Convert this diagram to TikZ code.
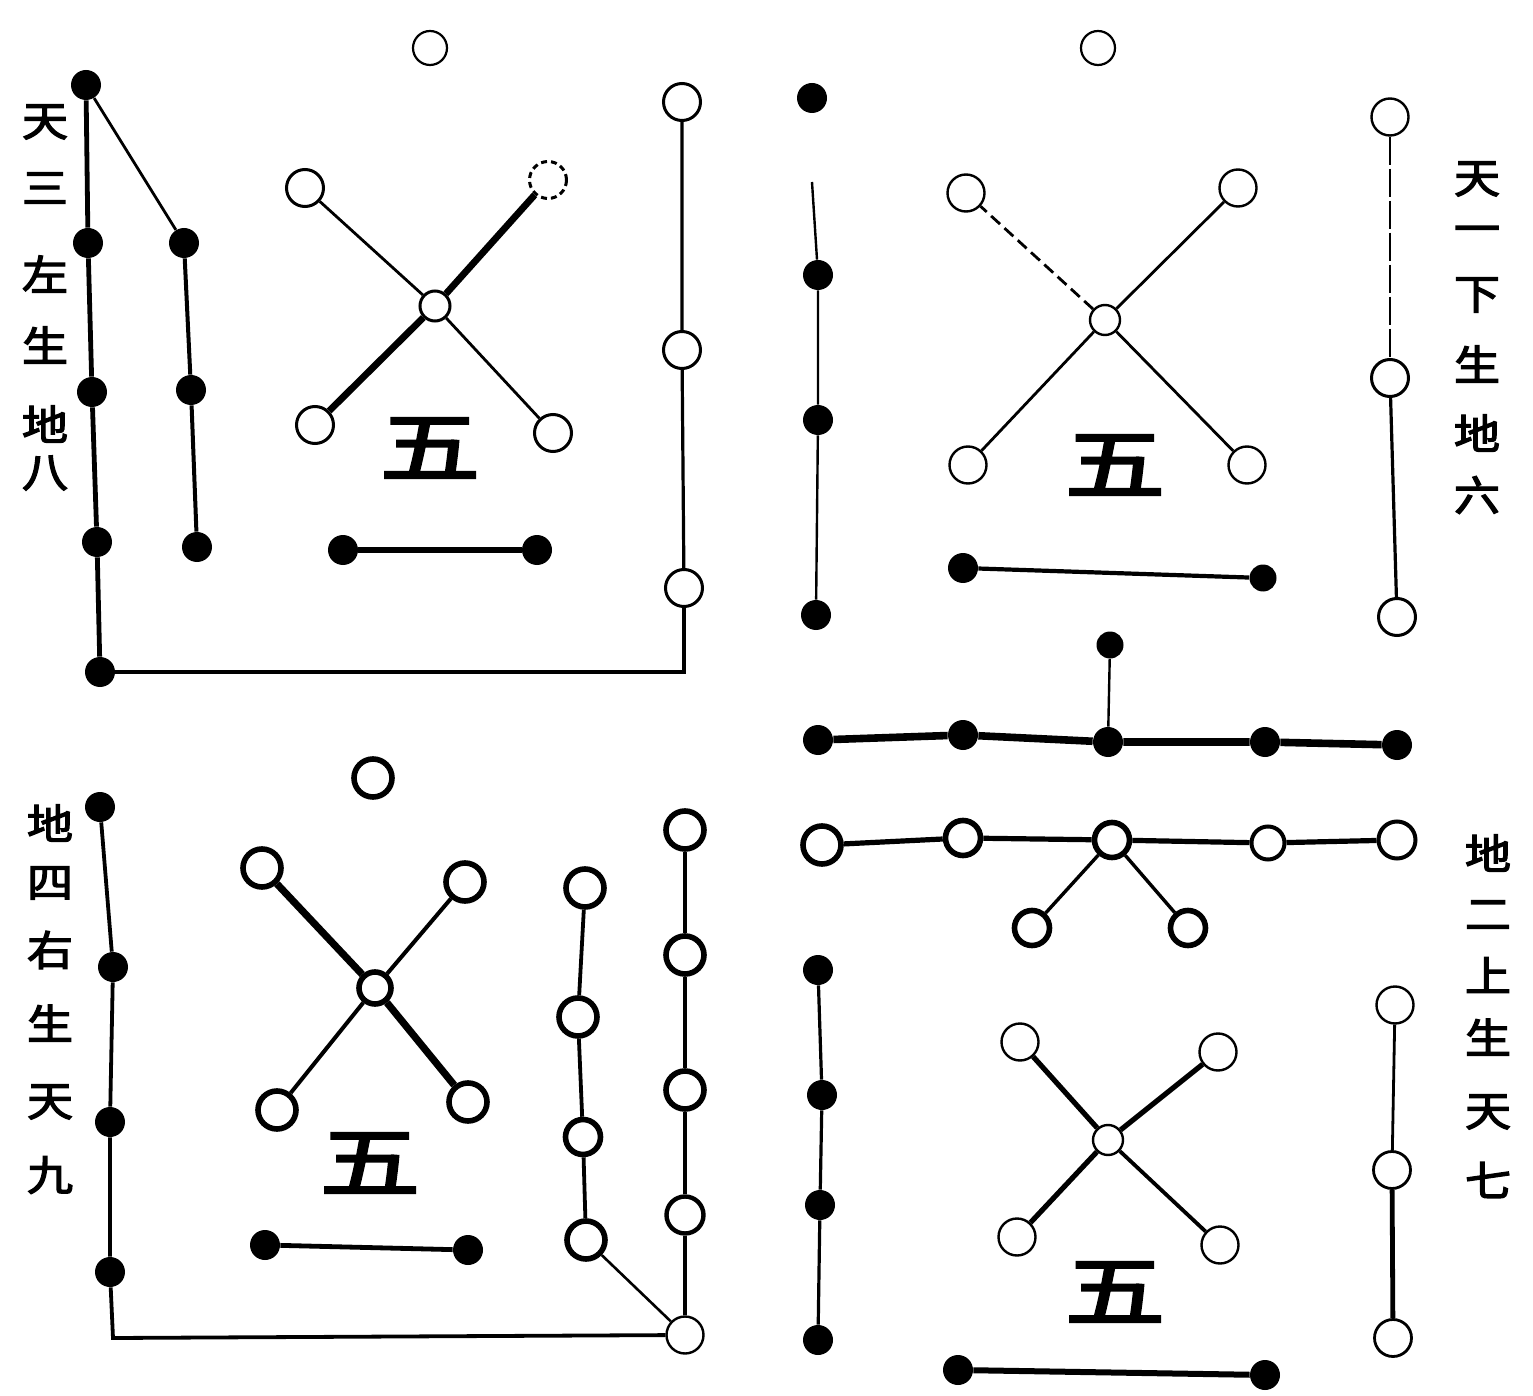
\documentclass[tikz,border=0pt]{standalone}
\usepackage{fontspec}
\newfontfamily\cjk{Noto Sans CJK SC}[AutoFakeBold=3]
\begin{document}
\begin{tikzpicture}[x=0.5pt,y=-0.5pt,
  opn/.style={circle,draw,fill=white,inner sep=0pt,minimum size=18.5pt,line width=1.5pt},
  opnk/.style={opn,line width=2.8pt,minimum size=19pt},
  ctr/.style={opn,minimum size=15pt},
  blk/.style={circle,fill=black,inner sep=0pt,minimum size=15pt},
  side/.style={font=\cjk\bfseries\fontsize{23}{23}\selectfont,inner sep=0pt,yscale=0.9},
  wu/.style={font=\cjk\bfseries\fontsize{50}{50}\selectfont,inner sep=0pt,yscale=0.78},
  thin/.style={line width=1.4pt},
  mid/.style={line width=2.4pt},
  thick/.style={line width=3.4pt}]
\fill[white] (0,0) rectangle (1533,1396);
\useasboundingbox (0,0) rectangle (1533,1396);

% ---------- top-left ----------
\foreach \c/\y [count=\i] in {天/122,三/188,左/274,生/345,地/424,八/473}
  \node[side] (tlt\i) at (45,\y) {\c};
\node[blk] (a1) at (86,85) {};
\node[blk] (a2) at (88,243) {};
\node[blk] (a3) at (92,392) {};
\node[blk] (a4) at (97,542) {};
\node[blk] (a5) at (100,672) {};
\node[blk] (b1) at (184,243) {};
\node[blk] (b2) at (191,390) {};
\node[blk] (b3) at (197,547) {};
\node[opn] (c1) at (682,102) {};
\node[opn] (c2) at (682,350) {};
\node[opn] (c3) at (684,588) {};
\node[opn,line width=1.1pt,minimum size=17pt] (t0) at (430,48) {};
\node[ctr] (xc) at (435,306) {};
\node[opn] (xnw) at (305,188) {};
\node[opn,densely dashed] (xne) at (548,180) {};
\node[opn] (xsw) at (315,425) {};
\node[opn] (xse) at (553,433) {};
\node[blk] (h1) at (343,550) {};
\node[blk] (h2) at (537,550) {};
\node[wu] (w1) at (430,448) {五};
\draw[mid] (a1)--(a2)--(a3)--(a4)--(a5);
\draw[mid] (a5) -| (c3);
\draw[thin] (a1)--(b1);
\draw[line width=2pt] (b1)--(b2)--(b3);
\draw[line width=1.6pt] (c1)--(c2)--(c3);
\draw[thick] (xc)--(xne);
\draw[thick] (xc)--(xsw);
\draw[thin] (xc)--(xnw);
\draw[thin] (xc)--(xse);
\draw[line width=2.8pt] (h1)--(h2);

% ---------- top-right ----------
\foreach \c/\y [count=\i] in {天/179,一/235,下/295,生/364,地/433,六/495}
  \node[side] (trt\i) at (1477,\y) {\c};
\node[blk] (d1) at (812,98) {};
\coordinate (dtop) at (812,182);
\node[blk] (d2) at (818,275) {};
\node[blk] (d3) at (818,420) {};
\node[blk] (d4) at (816,615) {};
\node[opn,line width=1.1pt,minimum size=17pt] (t1) at (1098,48) {};
\node[ctr,line width=1.2pt] (yc) at (1105,320) {};
\node[opn,line width=1.2pt] (ynw) at (966,193) {};
\node[opn,line width=1.2pt] (yne) at (1238,188) {};
\node[opn,line width=1.2pt] (ysw) at (968,465) {};
\node[opn,line width=1.2pt] (yse) at (1247,465) {};
\node[blk] (h3) at (963,568) {};
\node[blk,minimum size=13.5pt] (h4) at (1263,578) {};
\node[wu] (w2) at (1115,465) {五};
\node[opn,line width=1.2pt] (e1) at (1390,117) {};
\node[opn] (e2) at (1390,378) {};
\node[opn] (e3) at (1397,617) {};
\draw[line width=1.2pt] (dtop)--(d2)--(d3)--(d4);
\draw[thin,dash pattern=on 6pt off 3pt] (yc)--(ynw);
\draw[thin] (yc)--(yne);
\draw[thin] (yc)--(ysw);
\draw[thin] (yc)--(yse);
\draw[line width=2.1pt] (h3)--(h4);
\draw[line width=1.1pt,dash pattern=on 14pt off 2pt] (e1)--(e2);
\draw[line width=1.6pt] (e2)--(e3);

% ---------- middle ----------
\node[blk,minimum size=13.5pt] (m0) at (1110,645) {};
\node[blk] (m1) at (818,740) {};
\node[blk] (m2) at (963,735) {};
\node[blk] (m3) at (1108,742) {};
\node[blk] (m4) at (1265,742) {};
\node[blk] (m5) at (1397,745) {};
\node[opnk] (n1) at (822,845) {};
\node[opnk,minimum size=17.5pt] (n2) at (963,838) {};
\node[opnk,minimum size=17.5pt] (n3) at (1112,840) {};
\node[opn,line width=2pt,minimum size=16.5pt] (n4) at (1268,843) {};
\node[opn,line width=2pt] (n5) at (1397,840) {};
\node[opnk,minimum size=17.5pt] (n6) at (1032,928) {};
\node[opnk,minimum size=17.5pt] (n7) at (1188,928) {};
\draw[line width=1.2pt] (m0)--(m3);
\draw[line width=3.8pt] (m1)--(m2)--(m3)--(m4)--(m5);
\draw[line width=2.6pt] (n1)--(n2)--(n3)--(n4)--(n5);
\draw[line width=1.7pt] (n3)--(n6);
\draw[line width=1.7pt] (n3)--(n7);
\foreach \c/\y [count=\i] in {地/853,二/915,上/975,生/1037,天/1112,七/1180}
  \node[side] (mrt\i) at (1488,\y) {\c};

% ---------- bottom-right ----------
\node[blk] (p1) at (818,970) {};
\node[blk] (p2) at (822,1095) {};
\node[blk] (p3) at (820,1205) {};
\node[blk] (p4) at (818,1340) {};
\node[ctr,line width=1.2pt] (zc) at (1108,1140) {};
\node[opn,line width=1.2pt] (znw) at (1020,1042) {};
\node[opn,line width=1.2pt] (zne) at (1218,1052) {};
\node[opn,line width=1.2pt] (zsw) at (1017,1237) {};
\node[opn,line width=1.2pt] (zse) at (1220,1245) {};
\node[blk] (h5) at (958,1370) {};
\node[blk] (h6) at (1265,1375) {};
\node[wu] (w3) at (1115,1292) {五};
\node[opn,line width=1.2pt] (q1) at (1395,1005) {};
\node[opn,line width=1.4pt] (q2) at (1392,1170) {};
\node[opn,line width=1.4pt] (q3) at (1393,1338) {};
\draw[line width=1.6pt] (p1)--(p2)--(p3)--(p4);
\draw[line width=2.6pt] (zc)--(znw);
\draw[line width=2.6pt] (zc)--(zne);
\draw[line width=2.6pt] (zc)--(zsw);
\draw[line width=1.9pt] (zc)--(zse);
\draw[line width=3pt] (h5)--(h6);
\draw[thin] (q1)--(q2);
\draw[mid] (q2)--(q3);

% ---------- bottom-left ----------
\foreach \c/\y [count=\i] in {地/823,四/883,右/950,生/1023,天/1102,九/1175}
  \node[side] (blt\i) at (50,\y) {\c};
\node[blk] (r1) at (100,807) {};
\node[blk] (r2) at (113,967) {};
\node[blk] (r3) at (110,1122) {};
\node[blk] (r4) at (110,1272) {};
\coordinate (rc) at (113,1338);
\node[opnk] (t2) at (373,778) {};
\node[opnk,minimum size=16pt] (wc) at (375,988) {};
\node[opnk] (wnw) at (262,868) {};
\node[opnk] (wne) at (465,882) {};
\node[opnk] (wsw) at (277,1110) {};
\node[opnk] (wse) at (468,1102) {};
\node[blk] (h7) at (265,1245) {};
\node[blk] (h8) at (468,1250) {};
\node[wu] (w4) at (370,1163) {五};
\node[opnk] (s1) at (585,888) {};
\node[opnk] (s2) at (578,1017) {};
\node[opnk,minimum size=17.5pt] (s3) at (583,1137) {};
\node[opnk] (s4) at (586,1240) {};
\node[opnk] (u1) at (685,830) {};
\node[opnk] (u2) at (685,955) {};
\node[opnk] (u3) at (685,1090) {};
\node[opn,line width=2.2pt] (u4) at (685,1215) {};
\node[opn,line width=1.2pt] (u5) at (685,1335) {};
\draw[line width=1.9pt] (r1)--(r2)--(r3)--(r4)--(rc)--(u5);
\draw[line width=3.6pt] (wc)--(wnw);
\draw[line width=3.6pt] (wc)--(wse);
\draw[line width=2pt] (wc)--(wne);
\draw[line width=2pt] (wc)--(wsw);
\draw[mid] (h7)--(h8);
\draw[line width=1.9pt] (s1)--(s2)--(s3)--(s4);
\draw[line width=1.3pt] (s4)--(u5);
\draw[line width=2.1pt] (u1)--(u2)--(u3)--(u4)--(u5);
\end{tikzpicture}
\end{document}
